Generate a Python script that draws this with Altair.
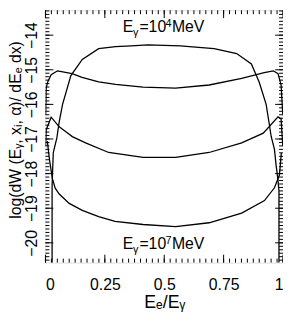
import altair as alt
import pandas as pd
import numpy as np

# ---- data ----
# E_gamma = 1e4 MeV (plateau curve)
xA = [0.028, 0.028, 0.030, 0.033, 0.048, 0.058, 0.072, 0.107, 0.155, 0.224, 0.295, 0.361, 0.432,
      0.568, 0.710, 0.805, 0.867, 0.900, 0.929, 0.942, 0.950, 0.964, 0.971, 0.978, 0.983, 0.983]
yA = [-20.8, -18.36, -17.94, -17.39, -16.97, -16.5, -16.0, -15.17, -14.70, -14.39, -14.33, -14.31, -14.28,
      -14.31, -14.39, -14.53, -14.83, -15.36, -16.0, -16.56, -16.92, -17.3, -17.76, -18.13, -18.5, -20.8]
# second curve
xB = [0.001, 0.003, 0.0095, 0.024, 0.051, 0.112, 0.154, 0.224, 0.295, 0.411, 0.548, 0.689, 0.826,
      0.921, 0.959, 0.979, 0.992, 0.999]
yB = [-16.3, -15.53, -15.35, -15.14, -15.03, -15.11, -15.22, -15.35, -15.42, -15.50, -15.53, -15.44, -15.25,
      -15.08, -15.03, -15.11, -15.44, -16.3]
# third curve
xC = [0.001, 0.003, 0.024, 0.058, 0.086, 0.113, 0.169, 0.266, 0.411, 0.548, 0.689, 0.826, 0.917,
      0.979, 0.992, 0.999]
yC = [-17.2, -16.74, -16.37, -16.65, -16.79, -16.93, -17.11, -17.39, -17.53, -17.53, -17.39, -17.11, -16.83,
      -16.36, -16.42, -17.2]
# E_gamma = 1e7 MeV
xD = [0.008, 0.017, 0.029, 0.041, 0.058, 0.100, 0.155, 0.224, 0.293, 0.411, 0.548, 0.689, 0.826,
      0.922, 0.964, 0.985, 0.993]
yD = [-17.06, -17.60, -18.14, -18.42, -18.59, -18.86, -19.06, -19.24, -19.38, -19.47, -19.53, -19.42, -19.14,
      -18.78, -18.41, -18.04, -17.4]

x_major = [0, 0.25, 0.5, 0.75, 1]
y_major = [-20, -19, -18, -17, -16, -15, -14]
x_minor = [round(v, 3) for v in np.arange(0, 1.0001, 0.025)]
y_minor = [round(v, 1) for v in np.arange(-20.5, -13.25, 0.1)]

XDOM = [0, 1]
YDOM = [-20.57, -13.28]
W, H = 241, 256
FONT = "Liberation Sans"

rows = []
for name, xs_, ys_ in [("A", xA, yA), ("B", xB, yB), ("C", xC, yC), ("D", xD, yD)]:
    for i, (a, b) in enumerate(zip(xs_, ys_)):
        rows.append(dict(series=name, x=a, y=b, order=i))
df = pd.DataFrame(rows)

xs = alt.Scale(domain=XDOM, nice=False, zero=False)
ys = alt.Scale(domain=YDOM, nice=False, zero=False)

lines = alt.Chart(df).mark_line(color="black", strokeWidth=1.3, clip=True).encode(
    x=alt.X("x:Q", scale=xs, axis=alt.Axis(
        values=x_major, labelExpr="'' + datum.value", labelPadding=14,
        title="Eₑ/Eᵧ", titleBaseline="alphabetic", titleY=46, titleFontSize=18)),
    y=alt.Y("y:Q", scale=ys, axis=alt.Axis(
        values=y_major, labelExpr="'−' + abs(datum.value)", labelPadding=9, labelAngle=-90,
        labelAlign="center", labelBaseline="alphabetic",
        title="log(dW (Eᵧ, xᵢ, α)/ dEₑ dx)", titleBaseline="alphabetic",
        titleX=-25, titleY=121)),
    detail="series:N",
    order="order:Q",
)

def xticks(vals, length):
    d = pd.DataFrame({"x": vals})
    bot = alt.Chart(d).mark_rule(color="black", strokeWidth=1).encode(
        x=alt.X("x:Q", scale=xs), y=alt.value(H), y2=alt.value(H - length))
    top = alt.Chart(d).mark_rule(color="black", strokeWidth=1).encode(
        x=alt.X("x:Q", scale=xs), y=alt.value(0), y2=alt.value(length))
    return [bot, top]

def yticks(vals, length):
    d = pd.DataFrame({"y": vals})
    left = alt.Chart(d).mark_rule(color="black", strokeWidth=1).encode(
        y=alt.Y("y:Q", scale=ys), x=alt.value(0), x2=alt.value(length))
    right = alt.Chart(d).mark_rule(color="black", strokeWidth=1).encode(
        y=alt.Y("y:Q", scale=ys), x=alt.value(W), x2=alt.value(W - length))
    return [left, right]

tick_layers = xticks(x_minor, 4) + xticks(x_major, 8) + yticks(y_minor, 4) + yticks(y_major, 8)

# annotation pieces: text, dx offset, dy offset, font size
def label(exp_text, yval):
    pieces = [("E", 0, 0, 16), ("γ", 10.5, 4, 11), ("=10", 17, 0, 16), (exp_text, 43.5, -5, 11), ("MeV", 50, 0, 16)]
    layers = []
    for t, dx, dy, fs in pieces:
        d = pd.DataFrame({"x": [0.325], "y": [yval], "t": [t]})
        layers.append(alt.Chart(d).mark_text(align="left", baseline="alphabetic", dx=dx, dy=dy,
                                             fontSize=fs, font=FONT, color="black").encode(
            x=alt.X("x:Q", scale=xs), y=alt.Y("y:Q", scale=ys), text="t:N"))
    return layers

labels = label("4", -13.917) + label("7", -20.17)

chart = alt.layer(lines, *tick_layers, *labels).properties(
    width=W, height=H,
    autosize=alt.AutoSizeParams(type="none"),
    padding={"left": 38, "top": 0, "right": 0, "bottom": 56},
).configure_view(stroke="black", strokeWidth=2).configure(background="white").configure_axis(
    ticks=False, tickSize=0, domain=False, grid=False,
    labelFont=FONT, labelFontSize=16, labelColor="black",
    titleFont=FONT, titleFontSize=16, titleFontWeight="normal", titleColor="black",
)

chart.save("out.html", embed_options={"renderer": "svg", "actions": False})
